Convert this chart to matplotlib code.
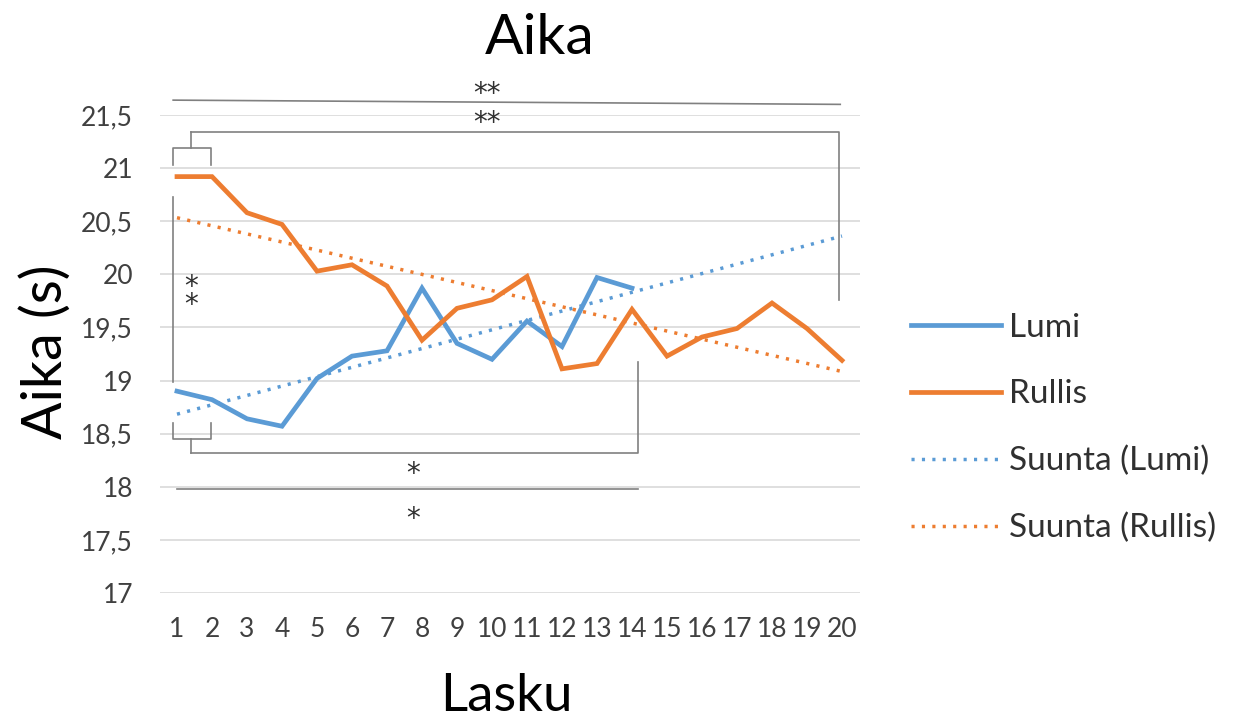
import matplotlib
matplotlib.use('Agg')
import matplotlib.pyplot as plt
from matplotlib.lines import Line2D
import numpy as np

matplotlib.rc('font', family=['Lato', 'DejaVu Sans'])

# data
laskut = list(range(1, 21))
lumi = [18.90, 18.82, 18.64, 18.57, 19.02, 19.23, 19.28, 19.87, 19.35, 19.20,
        19.56, 19.32, 19.97, 19.87]
rullis = [20.92, 20.92, 20.58, 20.47, 20.03, 20.09, 19.89, 19.38, 19.68, 19.76,
          19.98, 19.11, 19.16, 19.67, 19.23, 19.41, 19.49, 19.73, 19.49, 19.19]
y_ticks = [17, 17.5, 18, 18.5, 19, 19.5, 20, 20.5, 21, 21.5]
y_labels = ['17', '17,5', '18', '18,5', '19', '19,5', '20', '20,5', '21', '21,5']

blue = '#5B9BD5'
orange = '#ED7D31'
grey = '#808080'
dots = (0, (0.9, 2.1))

W, H = 1249, 722
fig = plt.figure(figsize=(W / 100, H / 100), dpi=100)
ax = fig.add_axes([159.5 / W, 129 / H, 700 / W, 478 / H])

x_lumi = np.array(laskut[:len(lumi)])
x_rul = np.array(laskut[:len(rullis)])
ax.plot(x_lumi, lumi, color=blue, lw=3.4, solid_joinstyle='miter', zorder=3)
ax.plot(x_rul, rullis, color=orange, lw=3.4, solid_joinstyle='miter', zorder=3)

# linear trend lines, extended over all categories like Excel does
xs = np.array(laskut)
k, b = np.polyfit(x_lumi, lumi, 1)
ax.plot(xs, k * xs + b, color=blue, lw=2.5, linestyle=dots, zorder=2)
k, b = np.polyfit(x_rul, rullis, 1)
ax.plot(xs, k * xs + b, color=orange, lw=2.5, linestyle=dots, zorder=2)

ax.set_xlim(0.5, 20.5)
ax.set_ylim(17, 21.5)
ax.set_xticks(laskut)
ax.set_xticklabels([str(v) for v in laskut])
ax.set_yticks(y_ticks)
ax.set_yticklabels(y_labels)
ax.tick_params(axis='both', length=0, labelsize=19, labelcolor='#404040')
ax.tick_params(axis='y', pad=19)
ax.tick_params(axis='x', pad=17)
ax.grid(axis='y', color='#D9D9D9', lw=1.2)
ax.set_axisbelow(True)
for s in ax.spines.values():
    s.set_visible(False)

# significance brackets
def seg(xx, yy):
    ax.plot(xx, yy, color=grey, lw=1.2, clip_on=False, zorder=1)

def star(x, y, t):
    ax.text(x, y, t, ha='center', va='center', fontsize=20, color='#303030',
            clip_on=False, family='DejaVu Sans')

seg([0.89, 19.95], [21.64, 21.60])
star(9.86, 21.70, '**')
star(9.86, 21.42, '**')
seg([1.4, 19.91, 19.91], [21.34, 21.34, 19.76])
seg([1.4, 1.4], [21.34, 21.19])
seg([0.89, 0.89, 1.97, 1.97], [21.03, 21.19, 21.19, 21.03])
seg([0.89, 0.89], [20.73, 18.99])
ax.text(1.4, 19.80, '*\n*', ha='center', va='center', fontsize=20,
        color='#303030', linespacing=0.55, family='DejaVu Sans')
seg([0.89, 0.89, 1.97, 1.97], [18.60, 18.45, 18.45, 18.60])
seg([1.4, 1.4], [18.45, 18.32])
seg([1.4, 14.17, 14.17], [18.32, 18.32, 19.17])
star(7.74, 18.12, '*')
seg([1.0, 14.17], [17.98, 17.98])
star(7.74, 17.70, '*')

fig.text(540 / W, 1 - 54 / H, 'Aika', fontsize=41, ha='center', va='baseline')
fig.text(506 / W, 1 - 711 / H, 'Lasku', fontsize=38, ha='center', va='baseline')
fig.text(62 / W, 1 - 352 / H, 'Aika (s)', fontsize=40, ha='center', va='baseline',
         rotation=90, rotation_mode='anchor')

handles = [
    Line2D([], [], color=blue, lw=3.4),
    Line2D([], [], color=orange, lw=3.4),
    Line2D([], [], color=blue, lw=2.5, linestyle=dots),
    Line2D([], [], color=orange, lw=2.5, linestyle=dots),
]
names = ['Lumi', 'Rullis', 'Suunta (Lumi)', 'Suunta (Rullis)']
fig.legend(handles, names, loc='center left', bbox_to_anchor=(881 / W, 1 - 428 / H),
           frameon=False, fontsize=24, handlelength=2.7, handletextpad=0.25,
           labelspacing=1.1, labelcolor='#303030')

plt.savefig('out.png', dpi=100)
